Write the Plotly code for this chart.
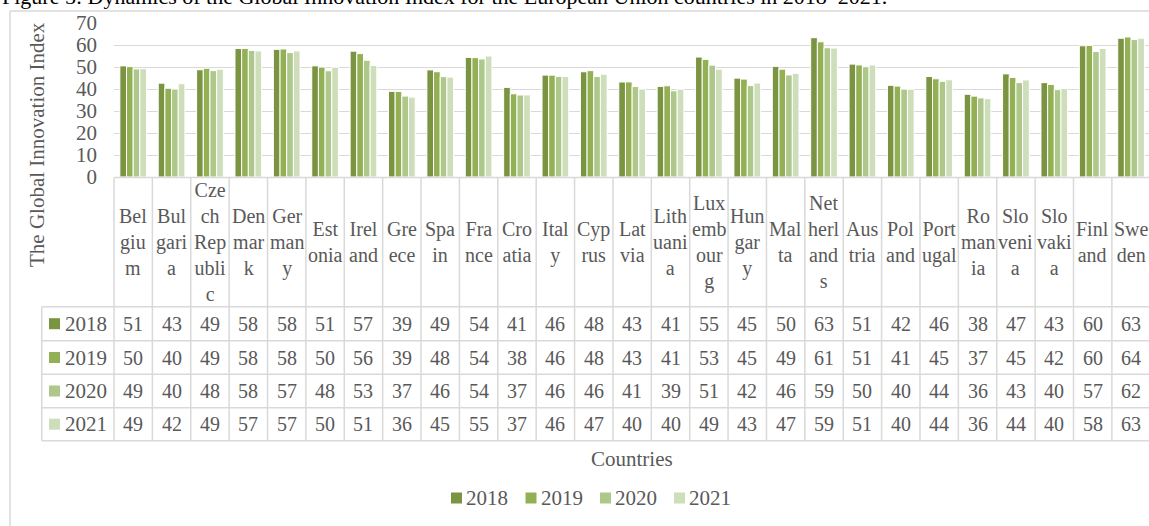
import math
import plotly.graph_objects as go

# ---------------- data ----------------
countries = ["Belgium", "Bulgaria", "Czech Republic", "Denmark", "Germany", "Estonia",
             "Ireland", "Greece", "Spain", "France", "Croatia", "Italy", "Cyprus",
             "Latvia", "Lithuania", "Luxembourg", "Hungary", "Malta", "Netherlands",
             "Austria", "Poland", "Portugal", "Romania", "Slovenia", "Slovakia",
             "Finland", "Sweden"]
# category labels as wrapped in the data table header
tick_labels = ["Bel<br>giu<br>m", "Bul<br>gari<br>a", "Cze<br>ch<br>Rep<br>ubli<br>c",
               "Den<br>mar<br>k", "Ger<br>man<br>y", "Est<br>onia", "Irel<br>and",
               "Gre<br>ece", "Spa<br>in", "Fra<br>nce", "Cro<br>atia", "Ital<br>y",
               "Cyp<br>rus", "Lat<br>via", "Lith<br>uani<br>a", "Lux<br>emb<br>our<br>g",
               "Hun<br>gar<br>y", "Mal<br>ta", "Net<br>herl<br>and<br>s", "Aus<br>tria",
               "Pol<br>and", "Port<br>ugal", "Ro<br>man<br>ia", "Slo<br>veni<br>a",
               "Slo<br>vaki<br>a", "Finl<br>and", "Swe<br>den"]
years = ["2018", "2019", "2020", "2021"]
gii_2018 = [50.50, 42.65, 48.75, 58.39, 58.03, 50.51, 57.19, 38.93, 48.68, 54.36, 40.73,
            46.32, 47.83, 43.18, 41.19, 54.53, 44.94, 50.29, 63.32, 51.32, 41.67, 45.71,
            37.59, 46.87, 42.88, 59.63, 63.08]
gii_2019 = [50.18, 40.35, 49.43, 58.44, 58.19, 49.97, 56.10, 38.90, 47.85, 54.25, 37.82,
            46.30, 48.34, 43.23, 41.46, 53.47, 44.51, 49.01, 61.44, 50.94, 41.31, 44.65,
            36.76, 45.25, 42.05, 59.83, 63.65]
gii_2020 = [49.13, 39.98, 48.34, 57.53, 56.55, 48.28, 53.05, 36.79, 45.60, 53.66, 37.27,
            45.74, 45.67, 41.11, 39.18, 50.84, 41.53, 46.39, 58.76, 50.13, 39.95, 43.51,
            35.95, 42.91, 39.70, 57.02, 62.47]
gii_2021 = [49.2, 42.4, 49.0, 57.3, 57.3, 49.9, 50.7, 36.3, 45.4, 55.0, 37.3,
            45.7, 46.7, 40.0, 39.9, 49.0, 42.7, 47.1, 58.6, 50.9, 39.9, 44.2,
            35.6, 44.1, 40.2, 58.4, 63.1]
series = [gii_2018, gii_2019, gii_2020, gii_2021]
colors = ["#7A9441", "#94B055", "#AEC78A", "#CEDDBA"]

# ---------------- layout geometry (pixels) ----------------
W, H = 1149, 526
L, T = 114, 23
PLOT_BOTTOM = 177
PW = W - L
PH = PLOT_BOTTOM - T
COL_W = 38.38
X_RANGE = [-0.5, -0.5 + PW / COL_W]

HEADER_TOP = 177.5
HEADER_BOTTOM = 306.7
ROW_LINES = [306.7, 340.7, 374.3, 407.7, 440.7]
TABLE_LEFT = 41.7
GRID = "#D9D9D9"
TXT = "#595959"
FONT = "Liberation Serif"
LEGEND_KEY_X = [451, 525.5, 600, 674]
LEGEND_Y = 498


def px(xp):
    return (xp - L) / PW


def py(yp):
    return (PLOT_BOTTOM - yp) / PH


def fmt(v):
    return str(int(math.floor(v + 0.5)))


fig = go.Figure()
for name, vals, c in zip(years, series, colors):
    fig.add_trace(go.Bar(
        x=list(range(len(countries))), y=vals, name=name,
        marker=dict(color=c, line=dict(color="white", width=1)),
        hoverinfo="skip", showlegend=False))

shapes = []
annotations = []

# outer chart border
shapes.append(dict(type="line", xref="paper", yref="paper", x0=px(10), x1=px(10),
                   y0=py(11), y1=py(540), line=dict(color=GRID, width=1.5)))
shapes.append(dict(type="line", xref="paper", yref="paper", x0=px(10), x1=px(1160),
                   y0=py(11), y1=py(11), line=dict(color=GRID, width=1.5)))

# table horizontal lines
shapes.append(dict(type="line", xref="paper", yref="paper", x0=0, x1=px(1160),
                   y0=py(HEADER_TOP), y1=py(HEADER_TOP), line=dict(color=GRID, width=1.5)))
for yl in ROW_LINES:
    shapes.append(dict(type="line", xref="paper", yref="paper", x0=px(TABLE_LEFT), x1=px(1160),
                       y0=py(yl), y1=py(yl), line=dict(color=GRID, width=1.5)))
# table vertical lines
shapes.append(dict(type="line", xref="paper", yref="paper", x0=0, x1=0,
                   y0=py(HEADER_TOP), y1=py(ROW_LINES[-1]), line=dict(color=GRID, width=1.5)))
for i in range(1, len(countries) + 1):
    shapes.append(dict(type="line", xref="x", yref="paper", x0=i - 0.5, x1=i - 0.5,
                       y0=py(HEADER_TOP), y1=py(ROW_LINES[-1]), line=dict(color=GRID, width=1.5)))
shapes.append(dict(type="line", xref="paper", yref="paper", x0=px(TABLE_LEFT), x1=px(TABLE_LEFT),
                   y0=py(ROW_LINES[0]), y1=py(ROW_LINES[-1]), line=dict(color=GRID, width=1.5)))

# header labels
hdr_mid = (HEADER_TOP + HEADER_BOTTOM) / 2
for i, lab in enumerate(tick_labels):
    annotations.append(dict(x=i, y=py(hdr_mid), xref="x", yref="paper", text=lab,
                            showarrow=False, xanchor="center", yanchor="middle",
                            font=dict(family=FONT, size=20, color=TXT)))

# data rows
for r, (name, vals, c) in enumerate(zip(years, series, colors)):
    yc = (ROW_LINES[r] + ROW_LINES[r + 1]) / 2
    shapes.append(dict(type="rect", xref="paper", yref="paper", x0=px(49), x1=px(60),
                       y0=py(yc + 5.5), y1=py(yc - 5.5), fillcolor=c, line=dict(width=0)))
    annotations.append(dict(x=px(63), y=py(yc), xref="paper", yref="paper", text=name,
                            showarrow=False, xanchor="left", yanchor="middle",
                            font=dict(family=FONT, size=21, color=TXT)))
    for i, v in enumerate(vals):
        annotations.append(dict(x=i, y=py(yc), xref="x", yref="paper", text=fmt(v),
                                showarrow=False, xanchor="center", yanchor="middle",
                                font=dict(family=FONT, size=20, color=TXT)))

# legend (bottom)
for name, c, kx in zip(years, colors, LEGEND_KEY_X):
    shapes.append(dict(type="rect", xref="paper", yref="paper", x0=px(kx), x1=px(kx + 11),
                       y0=py(LEGEND_Y + 5.5), y1=py(LEGEND_Y - 5.5), fillcolor=c,
                       line=dict(width=0)))
    annotations.append(dict(x=px(kx + 13), y=py(LEGEND_Y), xref="paper", yref="paper",
                            text=name, showarrow=False, xanchor="left", yanchor="middle",
                            font=dict(family=FONT, size=21, color=TXT)))

# axis titles
annotations.append(dict(x=(len(countries) - 1) / 2, y=py(459), xref="x", yref="paper",
                        text="Countries", showarrow=False, xanchor="center", yanchor="middle",
                        font=dict(family=FONT, size=21, color=TXT)))
annotations.append(dict(x=px(37), y=py(145), xref="paper", yref="paper",
                        text="The Global Innovation Index", textangle=-90, showarrow=False,
                        xanchor="center", yanchor="middle",
                        font=dict(family=FONT, size=21, color=TXT)))
# figure caption (partly cut at the top)
annotations.append(dict(x=px(0), y=py(-4), xref="paper", yref="paper",
                        text="Figure 5: Dynamics of the Global Innovation Index for the European Union countries in 2018–2021.",
                        showarrow=False, xanchor="left", yanchor="middle",
                        font=dict(family=FONT, size=22, color="#000000")))

fig.update_layout(
    width=W, height=H,
    margin=dict(l=L, r=0, t=T, b=H - PLOT_BOTTOM, autoexpand=False),
    paper_bgcolor="white", plot_bgcolor="white",
    barmode="group", bargap=0.305, bargroupgap=0,
    font=dict(family=FONT, color=TXT),
    showlegend=False,
    xaxis=dict(range=X_RANGE, showticklabels=False, showgrid=False, zeroline=False,
               showline=False, ticks="", fixedrange=True),
    yaxis=dict(range=[0, 70], dtick=10, showgrid=True, gridcolor=GRID, gridwidth=1.3,
               zeroline=False, showline=False, ticks="", ticklabelstandoff=16,
               tickfont=dict(family=FONT, size=21, color=TXT), automargin=False),
    shapes=shapes, annotations=annotations,
)

fig.write_html("out.html")
